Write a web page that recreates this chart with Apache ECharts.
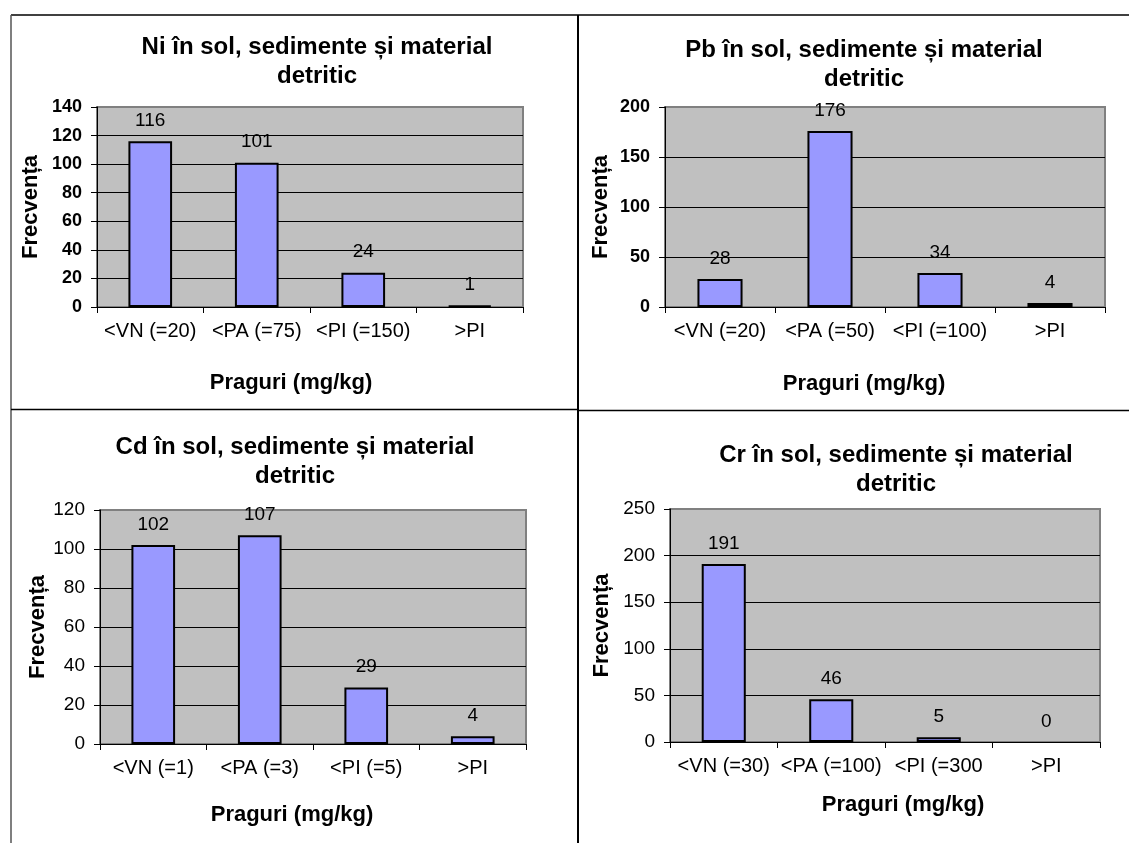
<!DOCTYPE html>
<html>
<head>
<meta charset="utf-8">
<script src="https://cdn.jsdelivr.net/npm/echarts@6/dist/echarts.min.js"></script>
<style>
  html, body { margin: 0; padding: 0; background: #ffffff; }
  #chart { width: 1129px; height: 843px; }
</style>
</head>
<body>
<div id="chart"></div>
<script>
// Frequency of samples per threshold class (soil, sediments and detrital material)
const niTitle = 'Ni în sol, sedimente și material\ndetritic';
const niCategories = ['<VN (=20)', '<PA (=75)', '<PI (=150)', '>PI'];
const niValues = [116, 101, 24, 1];

const pbTitle = 'Pb în sol, sedimente și material\ndetritic';
const pbCategories = ['<VN (=20)', '<PA (=50)', '<PI (=100)', '>PI'];
const pbValues = [28, 176, 34, 4];

const cdTitle = 'Cd în sol, sedimente și material\ndetritic';
const cdCategories = ['<VN (=1)', '<PA (=3)', '<PI (=5)', '>PI'];
const cdValues = [102, 107, 29, 4];

const crTitle = 'Cr în sol, sedimente și material\ndetritic';
const crCategories = ['<VN (=30)', '<PA (=100)', '<PI (=300', '>PI'];
const crValues = [191, 46, 5, 0];

const yMax = [140, 200, 120, 250];
const yStep = [20, 50, 20, 50];

const yName = 'Frecvența';
const xName = 'Praguri (mg/kg)';

const FONT = '"Liberation Sans", Arial, sans-serif';

// panel layout: plot rectangle, title centre, x-axis title centre, y-name gap
const panels = [
  { title: niTitle, cats: niCategories, vals: niValues,
    grid: { left: 97, top: 107, width: 426, height: 200 },
    titleX: 317, titleY: 33, xNameX: 291, xNameY: 383, yGap: 55, boldTicks: true },
  { title: pbTitle, cats: pbCategories, vals: pbValues,
    grid: { left: 665, top: 107, width: 440, height: 200 },
    titleX: 864, titleY: 36, xNameX: 864, xNameY: 384, yGap: 53, boldTicks: true },
  { title: cdTitle, cats: cdCategories, vals: cdValues,
    grid: { left: 100, top: 510, width: 426, height: 234 },
    titleX: 295, titleY: 433, xNameX: 292, xNameY: 815, yGap: 49, boldTicks: false },
  { title: crTitle, cats: crCategories, vals: crValues,
    grid: { left: 670, top: 509, width: 430, height: 233 },
    titleX: 896, titleY: 441, xNameX: 903, xNameY: 805, yGap: 57, boldTicks: false }
];

const option = {
  animation: false,
  backgroundColor: '#ffffff',
  textStyle: { fontFamily: FONT, color: '#000' },
  title: panels.map(p => ({
    text: p.title,
    left: p.titleX,
    top: p.titleY,
    textAlign: 'center',
    padding: 0,
    textStyle: { fontFamily: FONT, fontSize: 24, fontWeight: 'bold', color: '#000', lineHeight: 29 }
  })),
  grid: panels.map(p => Object.assign({
    show: true,
    backgroundColor: '#c0c0c0',
    borderColor: '#808080',
    borderWidth: 2,
    containLabel: false
  }, p.grid)),
  xAxis: panels.map((p, i) => ({
    type: 'category',
    gridIndex: i,
    data: p.cats,
    boundaryGap: true,
    axisLine: { show: true, lineStyle: { color: '#000', width: 1 } },
    axisTick: { show: true, length: 6, inside: false, lineStyle: { color: '#000' } },
    axisLabel: { interval: 0, fontFamily: FONT, fontSize: 20, color: '#000', margin: 14 },
    splitLine: { show: false }
  })),
  yAxis: panels.map((p, i) => ({
    type: 'value',
    gridIndex: i,
    min: 0,
    max: yMax[i],
    interval: yStep[i],
    name: yName,
    nameLocation: 'middle',
    nameRotate: 90,
    nameGap: p.yGap,
    nameTextStyle: { fontFamily: FONT, fontSize: 22, fontWeight: 'bold', color: '#000' },
    axisLine: { show: true, lineStyle: { color: '#000', width: 1 } },
    axisTick: { show: true, length: 6, inside: false, lineStyle: { color: '#000' } },
    axisLabel: { fontFamily: FONT, fontSize: p.boldTicks ? 18 : 19,
                 fontWeight: p.boldTicks ? 'bold' : 'normal', color: '#000', margin: 15 },
    splitLine: { show: true, showMaxLine: false, showMinLine: false,
                 lineStyle: { color: '#000', width: 1 } }
  })),
  series: panels.map((p, i) => ({
    type: 'bar',
    xAxisIndex: i,
    yAxisIndex: i,
    // an empty class gets no outline, only its label
    data: p.vals.map(v => (v === 0
      ? { value: v, itemStyle: { borderWidth: 0, color: 'rgba(0,0,0,0)' } }
      : v)),
    barWidth: '41%',
    itemStyle: { color: '#9999ff', borderColor: '#000', borderWidth: 2 },
    label: { show: true, position: 'top', distance: 11,
             fontFamily: FONT, fontSize: 19, color: '#000' }
  })),
  graphic: [
    // outer frame and panel dividers
    { type: 'line', silent: true, shape: { x1: 11, y1: 15, x2: 1129, y2: 15 }, style: { stroke: '#000', lineWidth: 1.5 } },
    { type: 'line', silent: true, shape: { x1: 11, y1: 15, x2: 11, y2: 843 }, style: { stroke: '#555', lineWidth: 1.5 } },
    { type: 'line', silent: true, shape: { x1: 578, y1: 15, x2: 578, y2: 843 }, style: { stroke: '#000', lineWidth: 2 } },
    { type: 'line', silent: true, shape: { x1: 11, y1: 409.5, x2: 578, y2: 409.5 }, style: { stroke: '#000', lineWidth: 1.5 } },
    { type: 'line', silent: true, shape: { x1: 578, y1: 410.5, x2: 1129, y2: 410.5 }, style: { stroke: '#000', lineWidth: 1.5 } }
  ].concat(panels.map(p => ({
    type: 'text',
    silent: true,
    x: p.xNameX,
    y: p.xNameY,
    style: { text: xName, fontFamily: FONT, fontSize: 22, fontWeight: 'bold', fill: '#000',
             align: 'center', verticalAlign: 'middle' }
  })))
};

const chart = echarts.init(document.getElementById('chart'), null, { renderer: 'canvas' });
chart.setOption(option);
</script>
</body>
</html>
